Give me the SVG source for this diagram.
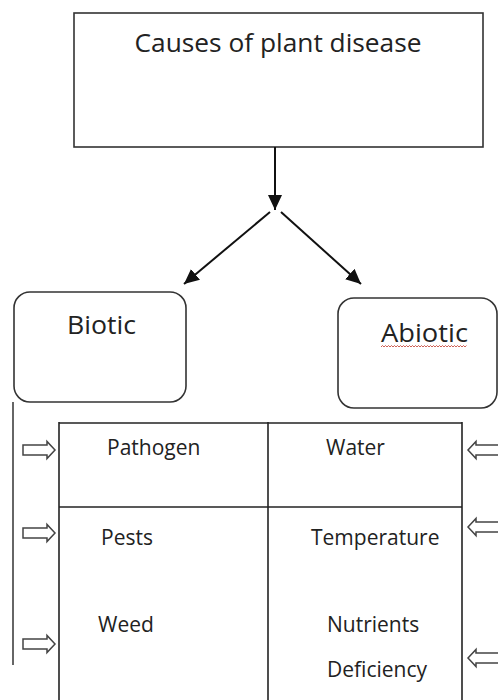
<svg xmlns="http://www.w3.org/2000/svg" xmlns:xlink="http://www.w3.org/1999/xlink" width="498" height="700" viewBox="0 0 498 700">
<style>
  .box{fill:#fff;stroke:#333;stroke-width:1.6}
  .ln{stroke:#222;stroke-width:1.6;fill:none}
  .t{font-family:"Open Sans","Liberation Sans",sans-serif;fill:#222}
  .cell{font-size:21px}
  .conn{stroke:#111;stroke-width:2;fill:none}
  .blk{fill:#fff;stroke:#444;stroke-width:1.5;stroke-linejoin:miter}
</style>
<defs>
  <marker id="ah" markerWidth="8" markerHeight="8" refX="7.5" refY="3.5" orient="auto" markerUnits="strokeWidth">
    <path d="M0,0 L7.5,3.5 L0,7 Z" fill="#111"/>
  </marker>
  <path id="rarrow" d="M-32,-5 H-8 V-8.5 L0,0 L-8,8.5 V5 H-32 Z"/>
</defs>
<rect width="498" height="700" fill="#fff"/>

<g id="node-causes">
  <rect class="box" x="74" y="13" width="409" height="134"/>
  <text class="t" x="278" y="52" font-size="25" text-anchor="middle" textLength="287" lengthAdjust="spacingAndGlyphs">Causes of plant disease</text>
</g>

<g id="node-biotic">
  <rect class="box" x="14" y="292" width="172" height="110" rx="16"/>
  <text class="t" x="67" y="334" font-size="25" textLength="69" lengthAdjust="spacingAndGlyphs">Biotic</text>
</g>

<g id="node-abiotic">
  <rect class="box" x="338" y="298" width="159" height="110" rx="16"/>
  <text class="t" x="381" y="342" font-size="26" textLength="87" lengthAdjust="spacingAndGlyphs">Abiotic</text>
  <path d="M381,347 l1.5,-1.5 l1.5,1.5 l1.5,-1.5 l1.5,1.5 l1.5,-1.5 l1.5,1.5 l1.5,-1.5 l1.5,1.5 l1.5,-1.5 l1.5,1.5 l1.5,-1.5 l1.5,1.5 l1.5,-1.5 l1.5,1.5 l1.5,-1.5 l1.5,1.5 l1.5,-1.5 l1.5,1.5 l1.5,-1.5 l1.5,1.5 l1.5,-1.5 l1.5,1.5 l1.5,-1.5 l1.5,1.5 l1.5,-1.5 l1.5,1.5 l1.5,-1.5 l1.5,1.5 l1.5,-1.5 l1.5,1.5 l1.5,-1.5 l1.5,1.5 l1.5,-1.5 l1.5,1.5 l1.5,-1.5 l1.5,1.5 l1.5,-1.5 l1.5,1.5 l1.5,-1.5 l1.5,1.5 l1.5,-1.5 l1.5,1.5 l1.5,-1.5 l1.5,1.5 l1.5,-1.5 l1.5,1.5 l1.5,-1.5 l1.5,1.5 l1.5,-1.5 l1.5,1.5 l1.5,-1.5 l1.5,1.5 l1.5,-1.5 l1.5,1.5 l1.5,-1.5 l1.5,1.5 l1.5,-1.5" fill="none" stroke="#c0392b" stroke-width="0.8"/>
</g>

<g id="node-table">
  <line class="ln" x1="59" y1="423" x2="462" y2="423" stroke-width="2.4"/>
  <line class="ln" x1="59" y1="422" x2="59" y2="700"/>
  <line class="ln" x1="268" y1="422" x2="268" y2="700"/>
  <line class="ln" x1="462" y1="422" x2="462" y2="700"/>
  <line class="ln" x1="59" y1="507" x2="462" y2="507"/>
</g>

<g id="node-pathogen"><text class="t cell" x="107" y="455">Pathogen</text></g>
<g id="node-water"><text class="t cell" x="326" y="455">Water</text></g>
<g id="node-pests"><text class="t cell" x="101" y="545">Pests</text></g>
<g id="node-temperature"><text class="t cell" x="311" y="545">Temperature</text></g>
<g id="node-weed"><text class="t cell" x="98" y="632">Weed</text></g>
<g id="node-nutrients"><text class="t cell" x="327" y="632">Nutrients</text><text class="t cell" x="327" y="677">Deficiency</text></g>

<g id="connectors">
  <line class="conn" x1="275" y1="147" x2="275" y2="210" marker-end="url(#ah)"/>
  <line class="conn" x1="270" y1="212" x2="184" y2="284" marker-end="url(#ah)"/>
  <line class="conn" x1="281" y1="212" x2="361" y2="284" marker-end="url(#ah)"/>
  <line x1="13" y1="402" x2="13" y2="665" stroke="#666" stroke-width="2"/>
  <use xlink:href="#rarrow" class="blk" transform="translate(55,450)"/>
  <use xlink:href="#rarrow" class="blk" transform="translate(55,533)"/>
  <use xlink:href="#rarrow" class="blk" transform="translate(55,644)"/>
  <use xlink:href="#rarrow" class="blk" transform="translate(468,450) scale(-1,1)"/>
  <use xlink:href="#rarrow" class="blk" transform="translate(468,527) scale(-1,1)"/>
  <use xlink:href="#rarrow" class="blk" transform="translate(468,658) scale(-1,1)"/>
</g>
</svg>
